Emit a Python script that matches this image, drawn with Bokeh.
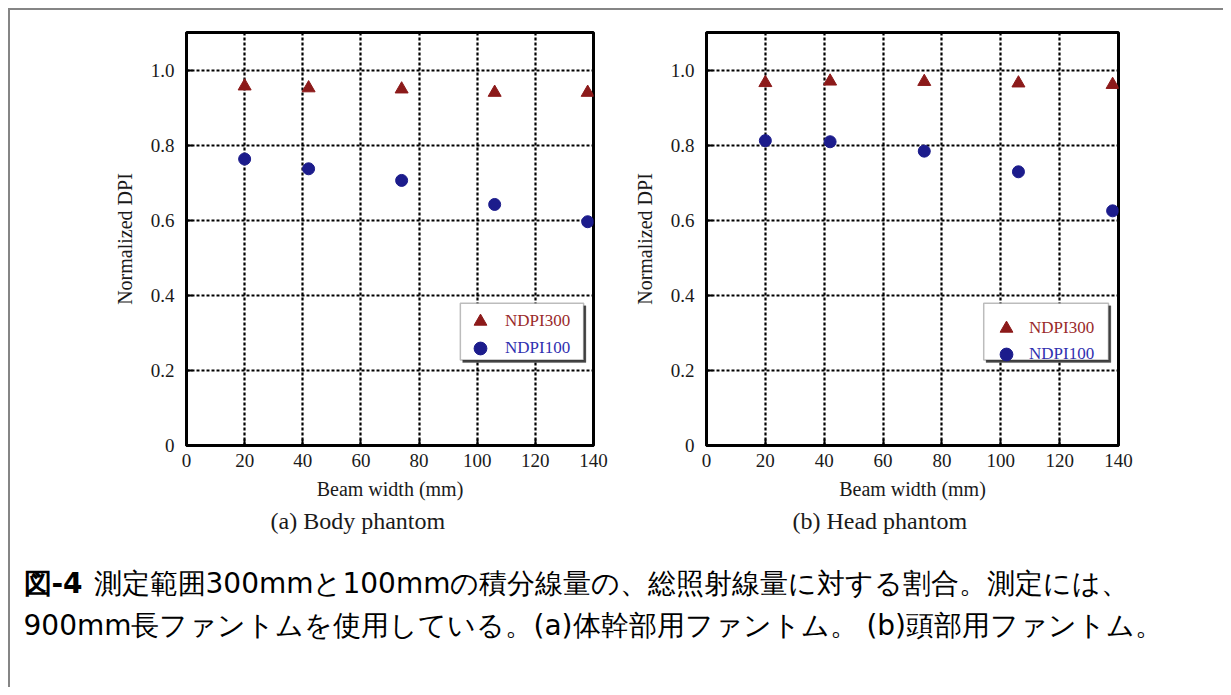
from bokeh.plotting import figure
from bokeh.models import (Range1d, FixedTicker, Legend, LegendItem, BoxAnnotation, Label, Title)
from bokeh.layouts import row, column
from bokeh.embed import file_html
from bokeh.resources import INLINE

# ---------------- data ----------------
beam_width = [20, 42, 74, 106, 138]
body_ndpi300 = [0.957, 0.952, 0.949, 0.940, 0.940]
body_ndpi100 = [0.763, 0.737, 0.706, 0.642, 0.596]
head_ndpi300 = [0.966, 0.970, 0.969, 0.965, 0.961]
head_ndpi100 = [0.812, 0.809, 0.784, 0.729, 0.625]
series_names = ["NDPI300", "NDPI100"]
x_ticks = [0, 20, 40, 60, 80, 100, 120, 140]
y_ticks = [0, 0.2, 0.4, 0.6, 0.8, 1.0]
y_tick_labels = {1: "1.0", 0: "0"}
subtitles = ["(a) Body phantom", "(b) Head phantom"]
x_label = "Beam width (mm)"
y_label = "Normalized DPI"
caption_bold = "図-4"
caption_line1 = "測定範囲300mmと100mmの積分線量の、総照射線量に対する割合。測定には、"
caption_line2 = "900mm長ファントムを使用している。(a)体幹部用ファントム。 (b)頭部用ファントム。"

SERIF = "Liberation Serif"
SANS = "DejaVu Sans"
RED = "#8c1a1a"
BLUE = "#1c1c8c"
RED_TXT = "#9a2a2a"
BLUE_TXT = "#3030b0"
TXT = "#1a1a1a"


def make_panel(ndpi300, ndpi100, subtitle, width, bl, br, leg_x, leg_y1, leg_y2, standoff, sub_off):
    p = figure(width=width, height=535, output_backend="svg", toolbar_location=None,
               x_range=Range1d(0, 140), y_range=Range1d(0, 1.1),
               min_border_left=bl, min_border_right=br, min_border_top=22, min_border_bottom=100,
               background_fill_color="white", border_fill_color="white")
    p.outline_line_color = "black"
    p.outline_line_width = 3
    for ax in (p.xaxis[0], p.yaxis[0]):
        ax.axis_line_color = "black"
        ax.axis_line_width = 3
        ax.major_tick_in = 6
        ax.major_tick_out = 0
        ax.major_tick_line_width = 2
        ax.minor_tick_in = 0
        ax.minor_tick_out = 0
        ax.major_label_text_font = SERIF
        ax.major_label_text_font_size = "19px"
        ax.major_label_text_color = TXT
        ax.axis_label_text_font = SERIF
        ax.axis_label_text_font_size = "20px"
        ax.axis_label_text_font_style = "normal"
        ax.axis_label_text_color = TXT
    p.xaxis.ticker = FixedTicker(ticks=x_ticks)
    p.yaxis.ticker = FixedTicker(ticks=y_ticks)
    p.yaxis.major_label_overrides = y_tick_labels
    p.xaxis.axis_label = x_label
    p.yaxis.axis_label = y_label
    p.xaxis.major_label_standoff = 8
    p.xaxis.axis_label_standoff = 8
    p.yaxis.major_label_standoff = 12
    p.yaxis.axis_label_standoff = 12
    for g in (p.xgrid[0], p.ygrid[0]):
        g.grid_line_color = "black"
        g.grid_line_width = 2.2
        g.grid_line_dash = "3 2"

    r300 = p.scatter(beam_width, ndpi300, marker="triangle", size=13,
                     fill_color=RED, line_color=RED)
    r100 = p.scatter(beam_width, ndpi100, marker="circle", size=12,
                     fill_color=BLUE, line_color=BLUE)

    # legend frame with shadow
    shadow = BoxAnnotation(left=95.0, right=137.4, bottom=0.221, top=0.372,
                           fill_color="#444444", fill_alpha=1, line_color="#444444", line_width=1)
    box = BoxAnnotation(left=94.2, right=136.6, bottom=0.228, top=0.379,
                        fill_color="white", fill_alpha=1, line_color="#222222", line_width=1.5)
    p.add_layout(shadow)
    p.add_layout(box)
    for item, r, col, ly in ((series_names[0], r300, RED_TXT, leg_y1),
                             (series_names[1], r100, BLUE_TXT, leg_y2)):
        lg = Legend(items=[LegendItem(label=item, renderers=[r])], location=(leg_x, ly),
                    background_fill_alpha=0, border_line_alpha=0, padding=0, margin=0,
                    label_text_font=SERIF, label_text_font_size="17px", label_text_color=col,
                    glyph_width=32, glyph_height=32, label_height=32, label_standoff=standoff,
                    spacing=0)
        p.add_layout(lg)

    p.add_layout(Title(text=subtitle, align="left", offset=sub_off, standoff=6,
                       text_font=SERIF, text_font_size="24px", text_font_style="normal",
                       text_color=TXT), "below")
    return p


p1 = make_panel(body_ndpi300, body_ndpi100, subtitles[0], 612, 176, 29, 278, 108, 81, 9, 84)
p2 = make_panel(head_ndpi300, head_ndpi100, subtitles[1], 601, 84, 105, 284, 101, 75, 7, 86)

cap = figure(width=1213, height=142, output_backend="svg", toolbar_location=None,
             x_range=Range1d(0, 1213), y_range=Range1d(142, 0),
             x_axis_type=None, y_axis_type=None, min_border=0,
             background_fill_color="white", border_fill_color="white")
cap.outline_line_color = None
cap.xgrid.visible = False
cap.ygrid.visible = False
cap.add_layout(Label(x=13, y=38, text=caption_bold, text_font=SANS, text_font_size="28px",
                     text_font_style="bold", text_baseline="middle", text_color="black"))
cap.add_layout(Label(x=83, y=38, text=caption_line1, text_font=SANS, text_font_size="28px",
                     text_baseline="middle", text_color="black"))
cap.add_layout(Label(x=13, y=80, text=caption_line2, text_font=SANS, text_font_size="28px",
                     text_baseline="middle", text_color="black"))

layout = column(row(p1, p2), cap, margin=(8, 0, 0, 8),
                styles={"border-top": "2px solid #858585", "border-left": "2px solid #858585"})

open("out.html", "w").write(file_html(layout, INLINE))
